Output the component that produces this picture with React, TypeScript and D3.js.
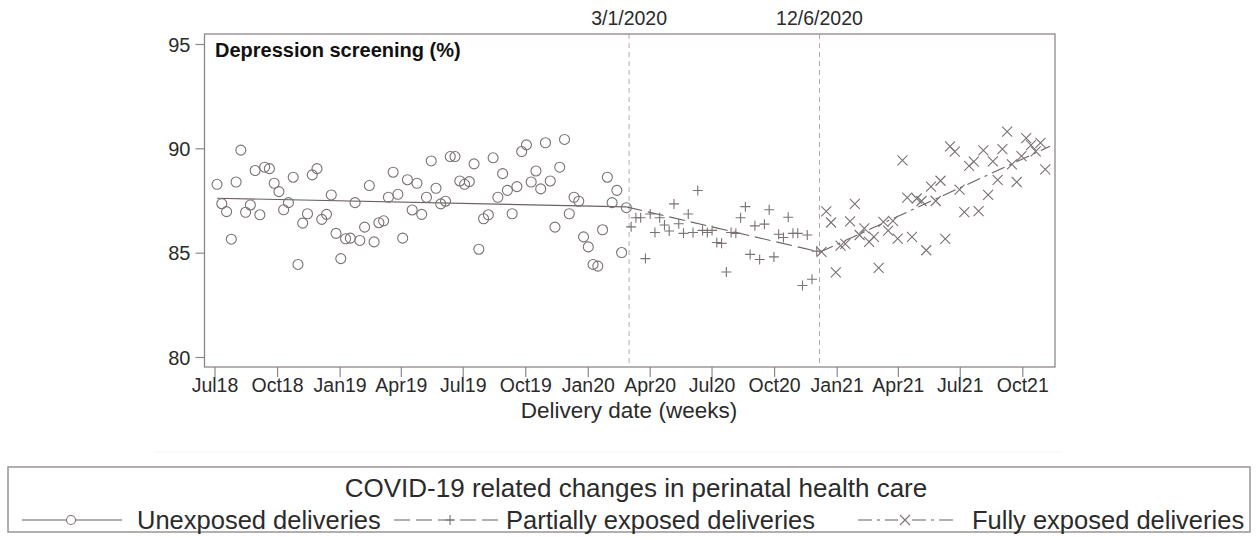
import React from 'react';
import * as d3 from 'd3';

// weekly points (plotted mid-week), first week 2018-07-01
const FIRST_WEEK = '2018-07-04';

const unexposed = [
  88.3, 87.37, 86.99, 85.67, 88.41, 89.94, 86.96, 87.31, 88.96, 86.84,
  89.12, 89.05, 88.35, 87.95, 87.08, 87.42, 88.64, 84.46, 86.44, 86.89,
  88.75, 89.05, 86.62, 86.86, 87.79, 85.95, 84.74, 85.69, 85.72, 87.42,
  85.61, 86.25, 88.24, 85.54, 86.46, 86.55, 87.68, 88.88, 87.82, 85.72,
  88.52, 87.07, 88.35, 86.86, 87.68, 89.42, 88.11, 87.36, 87.49, 89.63,
  89.63, 88.46, 88.3, 88.43, 89.28, 85.19, 86.65, 86.84, 89.57, 87.68,
  88.81, 88.01, 86.89, 88.19, 89.87, 90.19, 88.41, 88.94, 88.08, 90.29,
  88.46, 86.25, 89.12, 90.45, 86.89, 87.68, 87.49, 85.78, 85.3, 84.46,
  84.38, 86.12, 88.64, 87.42, 88.01, 85.03, 87.18,
];

const partial = [
  86.26, 86.7, 86.7, 84.74, 86.88, 85.99, 86.7, 86.35, 86.06, 87.36,
  86.41, 85.95, 86.88, 85.99, 88.0, 86.09, 85.99, 86.09, 85.51, 85.47,
  84.1, 85.99, 85.95, 86.7, 87.23, 84.94, 86.31, 84.7, 86.39, 87.08,
  84.82, 85.91, 85.75, 86.72, 85.95, 85.95, 83.45, 85.87, 83.75, 85.1,
];

const fully = [
  85.06, 87.0, 86.47, 84.08, 85.36, 85.45, 86.52, 87.36, 85.87, 86.19,
  85.54, 85.78, 84.3, 86.5, 86.08, 86.55, 85.7, 89.45, 87.66, 85.78,
  87.62, 87.5, 85.14, 88.19, 87.5, 88.47, 85.68, 90.12, 89.87, 88.05,
  86.97, 89.18, 89.39, 87.02, 89.93, 87.79, 89.4, 88.51, 89.99, 90.83,
  89.25, 88.41, 89.65, 90.51, 90.18, 89.88, 90.29, 89.02,
];

const unexposedTrend: [string, number][] = [['2018-07-04', 87.63], ['2020-02-26', 87.22]];
const partialTrend: [string, number][] = [['2020-02-26', 87.22], ['2020-12-07', 85.05]];
const fullyTrend: [string, number][] = [['2020-12-07', 85.05], ['2021-11-10', 90.12]];

const cutoffs = ['2020-03-01', '2020-12-06'];
const cutoffLabels = ['3/1/2020', '12/6/2020'];
const yTicks = [80, 85, 90, 95];

const FONT = '"Liberation Sans", Arial, sans-serif';
const MARK = '#7b7272';
const LINE = '#6a6161';
const FRAME = '#8e8787';
const TXT = '#2b2b2b';

const parse = d3.timeParse('%Y-%m-%d');

export default function App() {
  const W = 1258;
  const H = 538;
  const left = 204.5, right = 1055, top = 34, bottom = 367;

  const x = d3.scaleTime()
    .domain([parse('2018-07-01')!, parse('2021-10-01')!])
    .range([215, 1022.8]);
  const y = d3.scaleLinear().domain([80, 95]).range([357.5, 44.5]);

  const start = parse(FIRST_WEEK)!;
  const wk = (i: number) => d3.timeDay.offset(start, 7 * i);
  const nU = unexposed.length;
  const nP = partial.length;

  const xTicks = d3.timeMonths(parse('2018-07-01')!, parse('2021-10-02')!, 3);
  const fmt = d3.timeFormat('%b%y');

  const trendLine = d3.line<[string, number]>()
    .x((d) => x(parse(d[0])!))
    .y((d) => y(d[1]));

  const plus = (cx: number, cy: number, s = 5) =>
    `M${cx - s},${cy}H${cx + s}M${cx},${cy - s}V${cy + s}`;
  const cross = (cx: number, cy: number, s = 5) =>
    `M${cx - s},${cy - s}L${cx + s},${cy + s}M${cx - s},${cy + s}L${cx + s},${cy - s}`;

  return (
    <svg width={W} height={H} style={{ position: 'absolute', left: 0, top: 0, background: '#fff' }}
      fontFamily={FONT}>
      {/* faint edge of the chart image above the legend */}
      <line x1={155} x2={1061} y1={452} y2={452} stroke="#f5f5f5" strokeWidth={1} />

      {/* cutoff lines */}
      {cutoffs.map((c, i) => (
        <g key={c}>
          <line x1={x(parse(c)!)} x2={x(parse(c)!)} y1={top} y2={bottom}
            stroke="#b3abab" strokeDasharray="5,4" strokeWidth={1} />
          <text x={x(parse(c)!)} y={25} textAnchor="middle" fontSize={19.5} fill={TXT}>
            {cutoffLabels[i]}
          </text>
        </g>
      ))}

      {/* trend lines */}
      <path d={trendLine(unexposedTrend)!} fill="none" stroke={LINE} strokeWidth={1.1} />
      <path d={trendLine(partialTrend)!} fill="none" stroke={LINE} strokeWidth={1.1} strokeDasharray="16,6" />
      <path d={trendLine(fullyTrend)!} fill="none" stroke={LINE} strokeWidth={1.1} strokeDasharray="14,5,3,5" />

      {/* points */}
      {unexposed.map((v, i) => (
        <circle key={'u' + i} cx={x(wk(i))} cy={y(v)} r={5} fill="none" stroke={MARK} strokeWidth={1.1} />
      ))}
      {partial.map((v, i) => (
        <path key={'p' + i} d={plus(x(wk(nU + i)), y(v))} stroke={MARK} strokeWidth={1.1} fill="none" />
      ))}
      {fully.map((v, i) => (
        <path key={'f' + i} d={cross(x(wk(nU + nP + i)), y(v))} stroke={MARK} strokeWidth={1.1} fill="none" />
      ))}

      {/* frame */}
      <rect x={left} y={top} width={right - left} height={bottom - top} fill="none" stroke={FRAME} strokeWidth={1.3} />
      <text x={215} y={57} fontSize={20} fontWeight="bold" fill="#111">Depression screening (%)</text>

      {/* y axis */}
      {yTicks.map((t) => (
        <g key={t}>
          <line x1={left - 9} x2={left} y1={y(t)} y2={y(t)} stroke={FRAME} strokeWidth={1.2} />
          <text x={left - 14} y={y(t)} dy="0.35em" textAnchor="end" fontSize={20} fill={TXT}>{t}</text>
        </g>
      ))}

      {/* x axis */}
      {xTicks.map((t) => (
        <g key={+t}>
          <line x1={x(t)} x2={x(t)} y1={bottom} y2={bottom + 10} stroke={FRAME} strokeWidth={1.2} />
          <text x={x(t)} y={392} textAnchor="middle" fontSize={19.5} fill={TXT}>{fmt(t)}</text>
        </g>
      ))}
      <text x={629} y={418} textAnchor="middle" fontSize={22.5} fill={TXT}>Delivery date (weeks)</text>

      {/* legend */}
      <rect x={8} y={467} width={1242} height={65} fill="none" stroke="#9a9494" strokeWidth={1.5} />
      <text x={636} y={497} textAnchor="middle" fontSize={26} fill={TXT}>
        COVID-19 related changes in perinatal health care
      </text>
      <g>
        <line x1={22} x2={122} y1={520} y2={520} stroke={LINE} strokeWidth={1.1} />
        <circle cx={71} cy={520} r={4.5} fill="#fff" stroke={MARK} strokeWidth={1.1} />
        <text x={137} y={529} fontSize={25.5} fill={TXT}>Unexposed deliveries</text>

        <line x1={394} x2={500} y1={520} y2={520} stroke={LINE} strokeWidth={1.1} strokeDasharray="16,6" />
        <path d={plus(450, 520, 5)} stroke={MARK} strokeWidth={1.1} />
        <text x={506} y={529} fontSize={25.5} fill={TXT}>Partially exposed deliveries</text>

        <line x1={858} x2={955} y1={520} y2={520} stroke={LINE} strokeWidth={1.1} strokeDasharray="14,5,3,5" />
        <rect x={898} y={513} width={14} height={14} fill="#fff" />
        <path d={cross(905, 520, 5)} stroke={MARK} strokeWidth={1.1} />
        <text x={972} y={529} fontSize={25.5} fill={TXT}>Fully exposed deliveries</text>
      </g>
    </svg>
  );
}
